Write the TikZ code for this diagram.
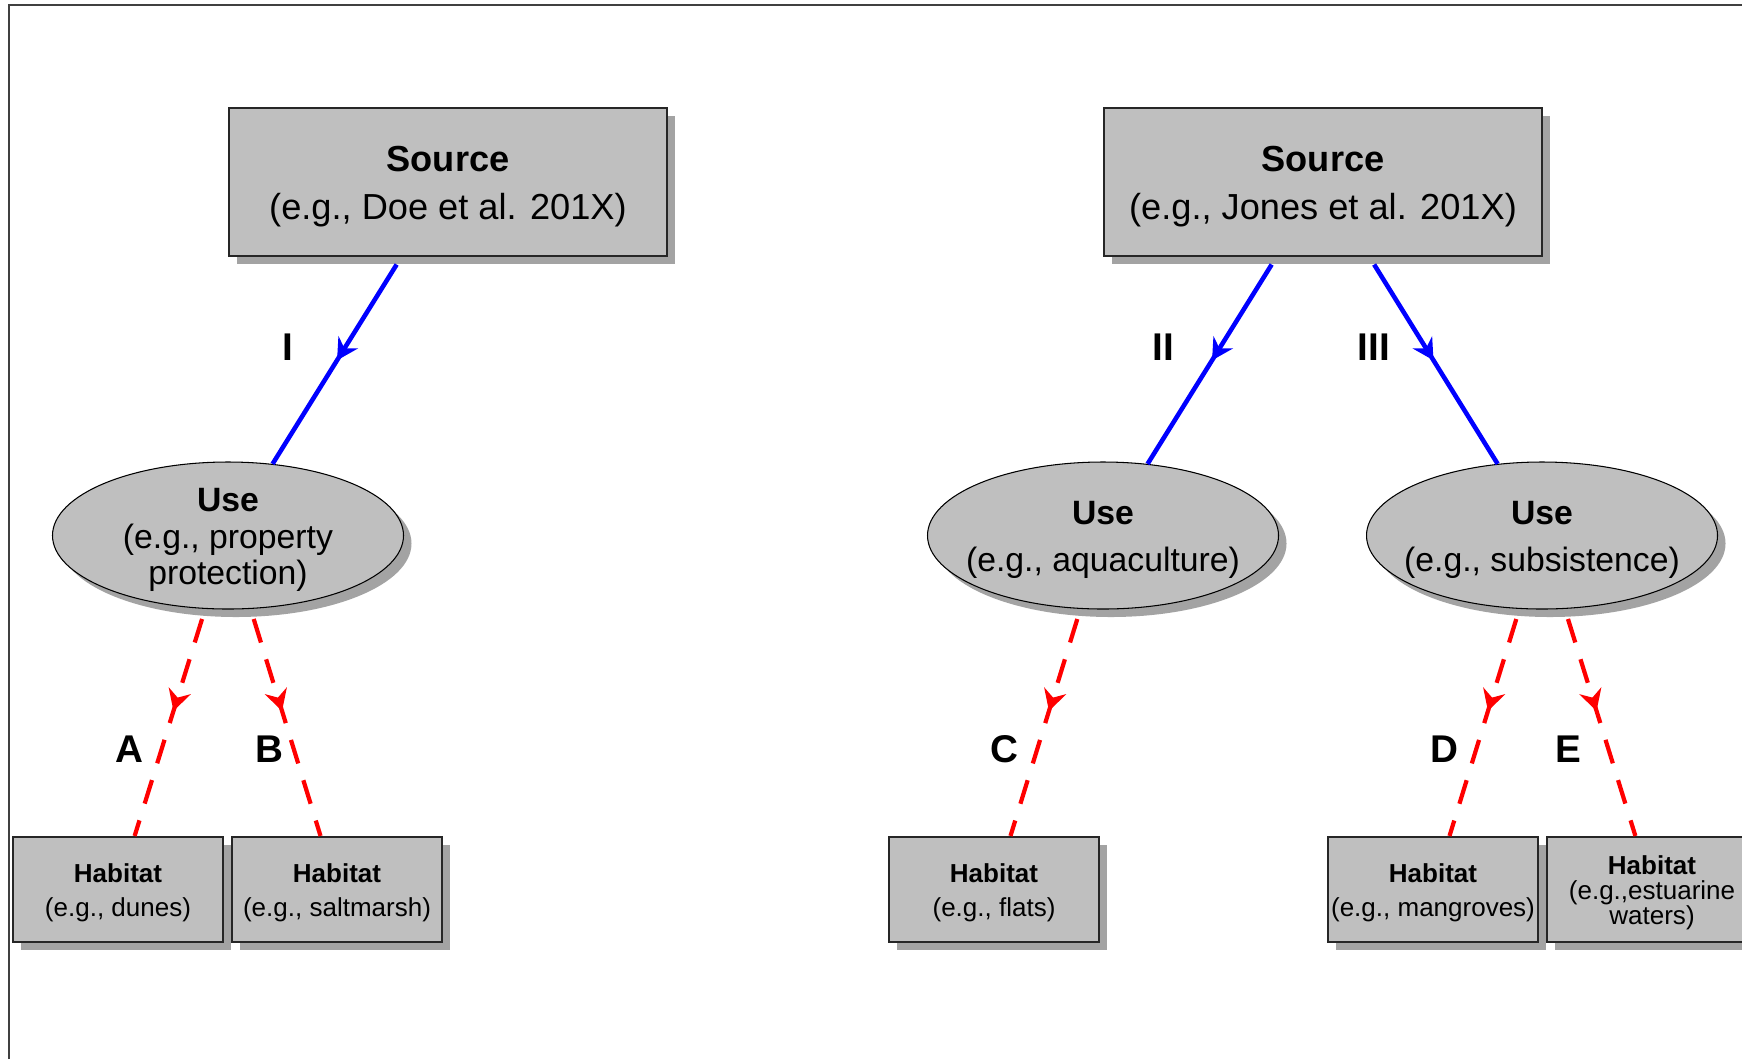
\documentclass[tikz,border=0pt]{standalone}
\usepackage{fontspec}
\setmainfont{Liberation Sans}
\usetikzlibrary{shapes.geometric,shadows,arrows.meta,decorations.markings}
\newcommand{\nodehead}[1]{\rule{0pt}{0.95em}\textbf{#1}}

\begin{document}
\begin{tikzpicture}
    \tikzstyle{every node}+=[inner sep=0pt, align=center]
    \tikzstyle{boxshadow}=[drop shadow={shadow xshift=0.08cm, shadow yshift=-0.08cm, fill=black!36, opacity=1}]
    \tikzstyle{srcbox}=[draw=black!85, line width=0.6pt, fill=black!25, boxshadow, minimum width=4.38cm, minimum height=1.48cm, font=\fontsize{10.3}{13.6}\selectfont]
    \tikzstyle{usenode}=[ellipse, draw=black, line width=0.3pt, fill=black!25, boxshadow, minimum width=3.51cm, minimum height=1.47cm, inner xsep=-6pt, inner ysep=-4pt, font=\fontsize{9.6}{13.3}\selectfont]
    \tikzstyle{habbox}=[draw=black!85, line width=0.6pt, fill=black!25, boxshadow, minimum width=2.1cm, minimum height=1.05cm, font=\fontsize{7.4}{9.6}\selectfont]
    \tikzstyle{flow}=[blue, line width=1.3pt, shorten <=2.5pt, postaction={decorate, decoration={markings, mark=at position 0.5 with {\arrow{Stealth[length=6pt,width=6.5pt,inset=2pt]}}}}]
    \tikzstyle{link}=[red, line width=1.2pt, dash pattern=on 7pt off 5pt, shorten <=3pt, postaction={decorate, decoration={markings, mark=at position 0.45 with {\arrow{Stealth[length=6pt,width=6.5pt,inset=2pt]}}}}]
    \tikzstyle{tag}=[font=\fontsize{11}{13}\selectfont\bfseries]
    \useasboundingbox (0,0) rectangle (17.42,-10.59);
    \draw [black!75, line width=0.6pt] (0.09,-10.59) -- (0.09,-0.05) -- (17.42,-0.05);
    % sources
    \node [srcbox] (srcDoe) at (4.48,-1.82) {\nodehead{Source}\\(e.g., Doe et al. 201X)};
    \node [srcbox] (srcJones) at (13.23,-1.82) {\nodehead{Source}\\(e.g., Jones et al. 201X)};
    % uses
    \node [usenode, font=\fontsize{9.6}{10.5}\selectfont] (useProp) at (2.28,-5.355) {\nodehead{Use}\\(e.g., property\\protection)};
    \node [usenode] (useAqua) at (11.03,-5.355) {\nodehead{Use}\\(e.g., aquaculture)};
    \node [usenode] (useSubs) at (15.42,-5.355) {\nodehead{Use}\\(e.g., subsistence)};
    % habitats
    \node [habbox] (habDunes) at (1.18,-8.895) {\nodehead{Habitat}\\(e.g., dunes)};
    \node [habbox] (habSalt) at (3.37,-8.895) {\nodehead{Habitat}\\(e.g., saltmarsh)};
    \node [habbox] (habFlats) at (9.94,-8.895) {\nodehead{Habitat}\\(e.g., flats)};
    \node [habbox] (habMang) at (14.33,-8.895) {\nodehead{Habitat}\\(e.g., mangroves)};
    \node [habbox, font=\fontsize{7.4}{7.1}\selectfont] (habEst) at (16.52,-8.895) {\nodehead{Habitat}\\(e.g.,estuarine\\waters)};
    % connectors
    \draw [flow] (srcDoe) -- (useProp);
    \draw [flow] (srcJones) -- (useAqua);
    \draw [flow] (srcJones) -- (useSubs);
    \draw [link] (useProp) -- (habDunes);
    \draw [link] (useProp) -- (habSalt);
    \draw [link] (useAqua) -- (habFlats);
    \draw [link] (useSubs) -- (habMang);
    \draw [link] (useSubs) -- (habEst);
    % labels
    \node [tag] (tagI) at (2.88,-3.47) {I};
    \node [tag] (tagII) at (11.63,-3.47) {II};
    \node [tag] (tagIII) at (13.74,-3.47) {III};
    \node [tag] (tagA) at (1.29,-7.49) {A};
    \node [tag] (tagB) at (2.69,-7.49) {B};
    \node [tag] (tagC) at (10.04,-7.49) {C};
    \node [tag] (tagD) at (14.44,-7.49) {D};
    \node [tag] (tagE) at (15.68,-7.49) {E};
\end{tikzpicture}
\end{document}
